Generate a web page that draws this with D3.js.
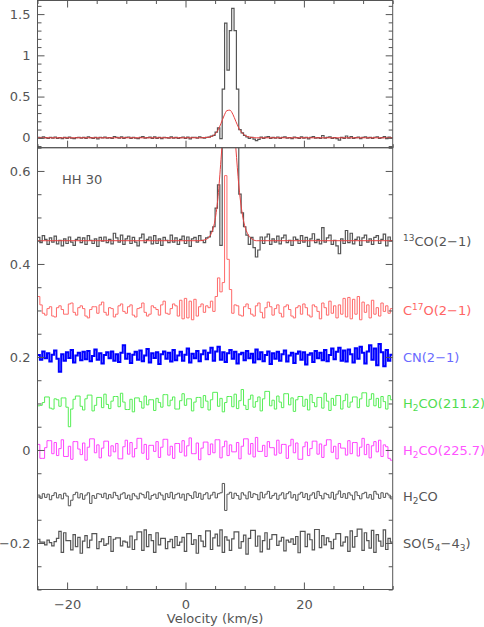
<!DOCTYPE html>
<html>
<head>
<meta charset="utf-8">
<script src="https://cdn.jsdelivr.net/npm/d3@7"></script>
<style>
body { margin: 0; background: #fff; }
</style>
</head>
<body>
<svg id="chart" width="484" height="627"></svg>
<script>
// channel grid (km/s)
var chan_start = -25, chan_width = 0.4;

// spectra in mK, one value per channel
var co13 = [7,-4,11,3,-8,6,-3,10,-7,1, -11,4,-6,8,-3,-10,3,7,-4,6, -8,11,1,-6,4,-12,7,-1,8,-4,
  3,-7,16,6,-3,12,-8,4,10,-6, 7,-3,-11,6,14,-4,3,8,-7,11, -6,4,-10,7,1,-4,12,-3,6,-8,
  3,10,-6,8,-12,4,7,-3,11,1, -4,6,8,20,30,70,120,-10,590,1390, 820,1300,1570,1300,590,100,60,30,12,-8,
  7,-15,-35,-20,8,-6,8,14,-8,4, -3,10,-7,6,12,-4,1,-10,8,3, -6,11,-3,7,-12,4,15,-4,3,-7,
  28,-3,6,12,-8,1,-11,-28,4,-6, 22,-4,16,-7,3,8,-10,6,12,-3, 4,-8,7,11,-6,3,14,-11,8,0];
var c17o = [30,12,-6,-10,4,8,-12,-14,6,10, 2,-8,-8,14,16,-4,-10,6,10,4, -12,-16,2,8,8,-6,12,18,-4,-10,
  6,4,-14,-8,10,14,-2,-6,8,12, -10,-14,4,6,16,-4,-12,-8,10,6, 2,-10,12,20,-6,-8,4,14,10,-12,
  22,-18,26,-16,20,-20,24,-12,8,14, -4,10,6,20,-2,30,70,40,60,290, 110,45,-6,12,10,-10,-12,8,14,4,
  -8,-12,10,16,-4,-16,6,18,8,-10, 4,12,-6,-14,8,12,2,-12,-16,6, 10,-8,14,6,-10,-14,12,8,-2,-18,
  16,6,-10,20,-6,10,-16,12,-8,26, -14,28,-18,24,-8,30,-20,18,-4,12, -16,22,-8,6,-12,16,-2,10,-6,4];
var cn = [4,-6,12,-3,8,-10,5,14,-4,-32, 6,-8,10,-2,15,-12,3,9,-7,11, -5,13,-9,2,16,-6,8,-14,4,10,
  -3,12,-8,6,-11,9,25,-4,7,-13, 5,11,-6,14,-9,3,17,-12,8,-2, 10,-15,6,12,-4,9,-10,15,-7,3,
  11,-8,5,18,-12,7,-3,13,-9,6, 14,-5,9,20,-8,12,22,-6,10,-11, 8,15,-4,11,-14,6,9,-7,13,-3,
  7,-12,16,-5,10,-9,4,12,-15,8, -4,11,-8,6,14,-10,3,9,-13,7, 12,-6,10,-16,5,8,-11,13,-3,9,
  -7,15,-9,4,18,-5,11,20,-8,14, -10,16,6,-12,19,-4,22,9,-14,12, 25,-6,18,-18,28,10,-20,15,-8,5];
var h2co_211 = [-5,-4,2,14,14,-10,-12,10,8,-6, 12,12,-8,-50,-12,9,16,16,-6,-14, 10,18,18,-16,-4,13,13,-9,20,-2,
  -11,5,15,15,-7,22,3,-13,-13,9, -18,12,12,4,-10,16,-3,8,8,-15, 11,2,-8,19,19,-5,7,14,-12,-12,
  6,21,-4,10,10,-16,3,13,13,-9, 17,5,-14,8,24,24,-6,11,-18,2, 15,15,-7,20,-11,6,30,-4,-13,9,
  18,-8,4,14,-16,10,26,26,-5,7, -12,16,3,-9,21,21,-3,12,-17,8, 15,15,-6,9,-14,19,2,-7,13,13,
  -10,22,5,-15,11,-4,17,17,-12,6, 20,-8,3,14,14,-9,10,23,23,-6, 9,21,-5,11,-9,15,4,-12,17,8];
var h2co_225 = [12,-18,-18,5,20,20,-8,16,-12,3, 22,-14,-14,8,-20,18,18,2,-10,15, -22,6,24,24,-6,11,-17,4,19,19,
  -13,9,-4,14,-19,-19,7,21,-9,16, -15,3,25,25,-7,12,-20,10,10,-3, 18,-16,6,23,23,-11,8,-18,14,14,
  -5,20,-13,9,26,-8,-8,15,-21,4, 17,17,-10,13,-6,22,22,-17,7,19, -12,11,-4,-4,16,-19,8,24,24,-9,
  14,-15,27,-3,-3,10,-14,18,5,5, -11,21,-7,12,12,-18,9,23,-6,15, -20,-20,7,17,-12,3,19,19,-9,13,
  -16,10,22,22,-5,8,-19,14,4,4, -11,20,-8,16,16,-13,6,25,-10,12, -17,9,18,-4,21,-14,11,7,-18,-22];
var h2co = [3,-4,6,-2,5,-7,2,8,-3,4, -5,7,1,-20,-8,4,9,-3,6,-6, 3,8,-15,2,-4,6,5,-2,7,-5,
  4,-3,9,2,-6,5,8,-4,3,-7, 6,1,-5,7,4,-3,10,-6,2,5, -4,8,3,-7,6,-2,9,-5,4,7,
  -3,5,-8,6,2,-4,10,-2,7,-6, 4,8,-5,3,9,-3,6,8,28,-30, 5,9,-4,7,2,-6,8,3,-5,10,
  -2,6,4,-7,9,-3,5,11,-4,2, 7,-6,3,8,-5,6,10,-3,4,-8, 5,9,-2,6,-7,3,8,-4,11,2,
  -5,7,4,-3,9,-6,5,12,-2,6, -4,8,3,-7,10,2,-5,6,9,-3, 4,-6,11,5,-4,8,-2,7,3,-5];
var so = [8,2,2,-4,6,1,-6,3,10,25, -20,22,5,5,-15,18,-8,12,-22,4, 16,-10,6,20,20,-12,3,9,-5,-2,
  14,-18,8,11,11,-6,4,2,-9,15, -14,7,24,24,-16,28,-8,18,5,-20, 22,-4,10,10,-12,3,8,-10,14,-5,
  2,12,-18,20,20,-3,7,-22,16,4, -8,26,26,-14,11,19,-6,28,-20,13, 6,-16,9,24,24,-11,3,17,-24,10,
  27,27,-7,15,-19,5,22,-13,8,18, 18,-5,4,12,-17,6,2,9,-3,14, -21,25,25,-8,19,7,-15,29,29,-10,
  16,-4,11,3,-12,8,20,20,-6,2, 13,-18,26,-9,14,30,30,-16,22,5, -11,27,-20,18,4,-7,28,-14,10,2];

// 13CO fit (mK), read at these velocities
var fit_vel = [-25, 2.5, 3.5, 4, 4.5, 5, 5.5, 6, 6.5, 7, 7.5, 8, 8.5, 9, 9.5, 10, 10.5, 11, 12, 35];
var fit_val = [0, 0, 3, 8, 20, 45, 95, 175, 265, 330, 335, 285, 200, 120, 65, 32, 15, 6, 0, 0];

// display offsets and labels
var offsets = [0.45, 0.3, 0.2, 0.1, 0, -0.1, -0.2];
var labels = [
  [["13", "sup"], ["CO(2\u22121)", ""]],
  [["C", ""], ["17", "sup"], ["O(2\u22121)", ""]],
  [["CN(2\u22121)", ""]],
  [["H", ""], ["2", "sub"], ["CO(211.2)", ""]],
  [["H", ""], ["2", "sub"], ["CO(225.7)", ""]],
  [["H", ""], ["2", "sub"], ["CO", ""]],
  [["SO(5", ""], ["4", "sub"], ["\u22124", ""], ["3", "sub"], [")", ""]]
];
var line_colors = ["#555", "#ff6a6a", "#0000ff", "#55ee55", "#ff44ff", "#555", "#555"];
var label_colors = ["#555", "#ff6464", "#6a6aff", "#50dd50", "#ff55ff", "#555", "#555"];
var line_widths = [1.2, 1, 2, 1, 1, 1, 1.2];

var x_major = [-20, 0, 20];
var x_minor = [-25, -15, -10, -5, 5, 10, 15, 25, 30, 35];
var top_major = [0, 0.5, 1, 1.5];
var top_minor = [-0.1, 0.1, 0.2, 0.3, 0.4, 0.6, 0.7, 0.8, 0.9, 1.1, 1.2, 1.3, 1.4, 1.6];
var bot_major = [-0.2, 0, 0.2, 0.4, 0.6];
var bot_minor = [-0.3, -0.25, -0.15, -0.1, -0.05, 0.05, 0.1, 0.15, 0.25, 0.3, 0.35, 0.45, 0.5, 0.55, 0.65];

var spectra = [co13, c17o, cn, h2co_211, h2co_225, h2co, so];

var svg = d3.select("#chart");
var font = "DejaVu Sans";
var axis_color = "#555";

var left = 37.5, right = 392.7;
var x = d3.scaleLinear().domain([-25, 35]).range([left, right]);
var y_top = d3.scaleLinear().domain([-0.12, 1.665]).range([147.7, 0.5]);
var y_bot = d3.scaleLinear().domain([-0.3, 0.65]).range([589.5, 147.7]);

function clip(id, y) {
    svg.append("clipPath").attr("id", id)
        .append("rect")
        .attr("x", left).attr("y", y.range()[1])
        .attr("width", right - left)
        .attr("height", y.range()[0] - y.range()[1]);
}
clip("clip_top", y_top);
clip("clip_bot", y_bot);

function step_points(data, offset) {
    var pts = data.map(function (d, i) { return [chan_start + i * chan_width, d / 1000 + offset]; });
    pts.push([chan_start + data.length * chan_width, data[data.length - 1] / 1000 + offset]);
    return pts;
}

function draw_step(g, y, data, offset, color, width) {
    var line = d3.line()
        .x(function (d) { return x(d[0]); })
        .y(function (d) { return y(d[1]); })
        .curve(d3.curveStepAfter);
    g.append("path")
        .attr("d", line(step_points(data, offset)))
        .attr("fill", "none")
        .attr("stroke", color)
        .attr("stroke-width", width);
}

function draw_fit(g, y, offset) {
    var line = d3.line()
        .x(function (d) { return x(d[0]); })
        .y(function (d) { return y(d[1] / 1000 + offset); })
        .curve(d3.curveMonotoneX);
    g.append("path")
        .attr("d", line(fit_vel.map(function (v, i) { return [v, fit_val[i]]; })))
        .attr("fill", "none")
        .attr("stroke", "#e84040")
        .attr("stroke-width", 1);
}

// top panel
var g_top = svg.append("g").attr("clip-path", "url(#clip_top)");
draw_step(g_top, y_top, co13, 0, "#555", 1.2);
draw_fit(g_top, y_top, 0);

// bottom panel
var g_bot = svg.append("g").attr("clip-path", "url(#clip_bot)");
spectra.forEach(function (s, i) {
    draw_step(g_bot, y_bot, s, offsets[i], line_colors[i], line_widths[i]);
});
draw_fit(g_bot, y_bot, offsets[0]);

// axes
function style_axis(g) {
    g.select(".domain").remove();
    g.selectAll("line").attr("stroke", axis_color);
    g.selectAll("text").attr("fill", "#555").attr("font-family", font).attr("font-size", 13);
}

function add_axis(axis, tx, ty) {
    var g = svg.append("g").attr("transform", "translate(" + tx + "," + ty + ")").call(axis);
    style_axis(g);
    return g;
}

var fmt = d3.format("~g");

[y_top, y_bot].forEach(function (y, k) {
    var major = k === 0 ? top_major : bot_major;
    var minor = k === 0 ? top_minor : bot_minor;
    add_axis(d3.axisLeft(y).tickValues(major).tickSize(-7).tickPadding(7).tickFormat(fmt), left, 0);
    add_axis(d3.axisLeft(y).tickValues(minor).tickSize(-4).tickFormat(""), left, 0);
    add_axis(d3.axisRight(y).tickValues(major).tickSize(-7).tickFormat(""), right, 0);
    add_axis(d3.axisRight(y).tickValues(minor).tickSize(-4).tickFormat(""), right, 0);
});

// top panel x ticks
add_axis(d3.axisTop(x).tickValues(x_major).tickSize(-7).tickFormat(""), 0, y_top.range()[1]);
add_axis(d3.axisTop(x).tickValues(x_minor).tickSize(-3.5).tickFormat(""), 0, y_top.range()[1]);
add_axis(d3.axisBottom(x).tickValues(x_major).tickSize(-7).tickFormat(""), 0, y_top.range()[0]);
add_axis(d3.axisBottom(x).tickValues(x_minor).tickSize(-3.5).tickFormat(""), 0, y_top.range()[0]);
// bottom panel x axis
add_axis(d3.axisBottom(x).tickValues(x_major).tickSize(-7).tickPadding(10).tickFormat(fmt), 0, y_bot.range()[0]);
add_axis(d3.axisBottom(x).tickValues(x_minor).tickSize(-3.5).tickFormat(""), 0, y_bot.range()[0]);

// frames
[y_top, y_bot].forEach(function (y) {
    svg.append("rect")
        .attr("x", left).attr("y", y.range()[1])
        .attr("width", right - left).attr("height", y.range()[0] - y.range()[1])
        .attr("fill", "none").attr("stroke", axis_color).attr("stroke-width", 1);
});

// texts
svg.append("text")
    .attr("x", (left + right) / 2).attr("y", 623)
    .attr("text-anchor", "middle")
    .attr("font-family", font).attr("font-size", 13).attr("fill", "#555")
    .text("Velocity (km/s)");

svg.append("text")
    .attr("x", 62).attr("y", 184.3)
    .attr("font-family", font).attr("font-size", 13).attr("fill", "#555")
    .text("HH 30");

labels.forEach(function (parts, i) {
    var t = svg.append("text")
        .attr("x", 403).attr("y", y_bot(offsets[i]) + 4.8)
        .attr("font-family", font).attr("font-size", 13)
        .attr("fill", label_colors[i]);
    var shift = 0;
    parts.forEach(function (p) {
        var dy = 0, size = 13;
        if (p[1] === "sup") { dy = -5 - shift; shift = -5; size = 9; }
        else if (p[1] === "sub") { dy = 3 - shift; shift = 3; size = 9; }
        else { dy = -shift; shift = 0; }
        t.append("tspan").attr("dy", dy).attr("font-size", size).text(p[0]);
    });
});
</script>
</body>
</html>
